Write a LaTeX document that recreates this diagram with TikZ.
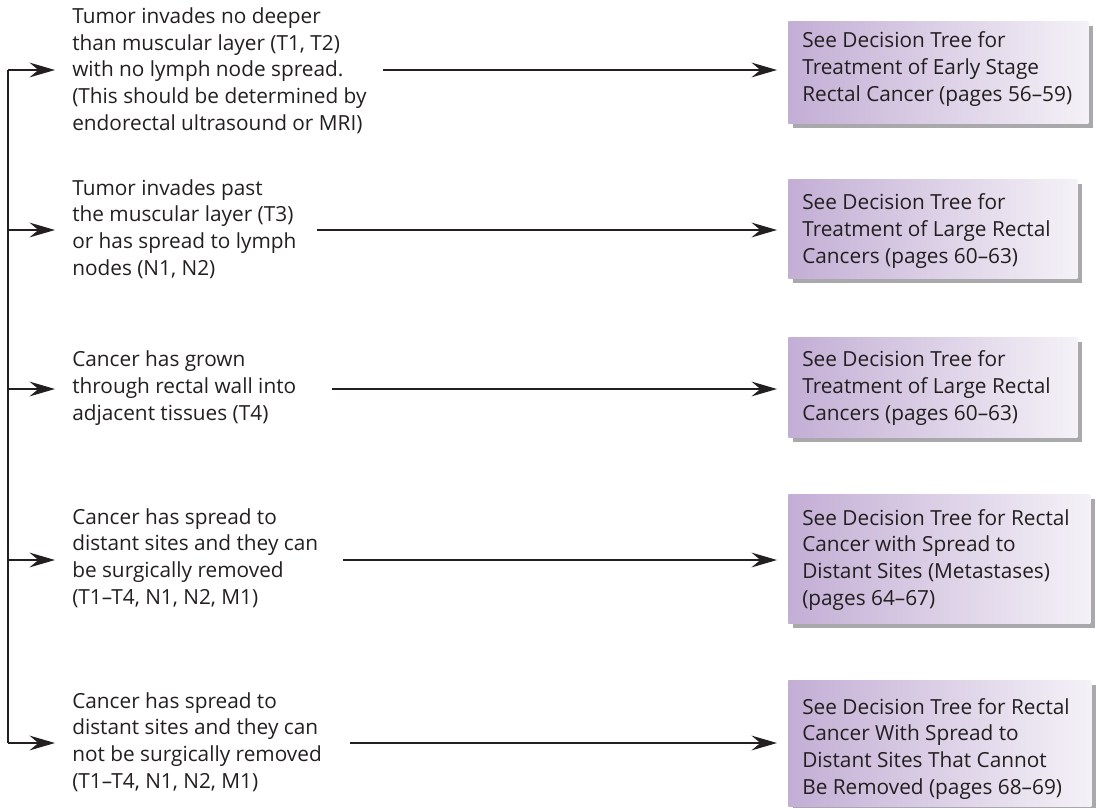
\documentclass[tikz,border=0pt]{standalone}
\usepackage{fontspec}
\setmainfont{Open Sans}
\usetikzlibrary{arrows.meta,shadows}
\definecolor{ink}{HTML}{231F20}
\definecolor{lavender}{HTML}{C3AED5}
\definecolor{paleviolet}{HTML}{F4F1F7}
\definecolor{shadowgrey}{HTML}{A9A9AB}
\begin{document}
\begin{tikzpicture}[x=0.75pt,y=-0.75pt,
  every node/.style={font=\fontsize{15.6pt}{20pt}\selectfont, text=ink, inner sep=0pt},
  % multi-line nodes: the base anchor sits on the last line
  case/.style={anchor=base west, align=left},
  tree/.style={anchor=north west, left color=lavender, right color=paleviolet,
    drop shadow={shadow xshift=3.5pt, shadow yshift=-3.5pt, fill=shadowgrey, opacity=1}},
  treetext/.style={anchor=base west, align=left},
  arr/.style={draw=ink, line width=1.8pt, -{Stealth[length=19pt, width=11pt, inset=6.5pt]}},
  rail/.style={draw=ink, line width=1.8pt}]
\useasboundingbox (0,0) rectangle (1096,807);

% staging cases on the left
\node[case] (t1) at (72,130) {Tumor invades no deeper\\than muscular layer (T1, T2)\\with no lymph node spread.\\(This should be determined by\\endorectal ultrasound or MRI)};
\node[case] (t2) at (72,275) {Tumor invades past\\the muscular layer (T3)\\or has spread to lymph\\nodes (N1, N2)};
\node[case] (t3) at (72,420) {Cancer has grown\\through rectal wall into\\adjacent tissues (T4)};
\node[case] (t4) at (72,604) {Cancer has spread to\\distant sites and they can\\be surgically removed\\(T1--T4, N1, N2, M1)};
\node[case] (t5) at (72,788) {Cancer has spread to\\distant sites and they can\\not be surgically removed\\(T1--T4, N1, N2, M1)};

% decision tree references on the right
\node[tree, minimum width=300*0.75pt, minimum height=102*0.75pt] (b1) at (788,21) {};
\node[tree, minimum width=289*0.75pt, minimum height=99*0.75pt] (b2) at (788,179) {};
\node[tree, minimum width=289*0.75pt, minimum height=100*0.75pt] (b3) at (788,337) {};
\node[tree, minimum width=302*0.75pt, minimum height=129*0.75pt] (b4) at (788,494) {};
\node[tree, minimum width=303*0.75pt, minimum height=126*0.75pt] (b5) at (788,680) {};

\node[treetext] (r1) at (802,101) {See Decision Tree for\\Treatment of Early Stage\\Rectal Cancer (pages 56--59)};
\node[treetext] (r2) at (802,263) {See Decision Tree for\\Treatment of Large Rectal\\Cancers (pages 60--63)};
\node[treetext] (r3) at (802,420) {See Decision Tree for\\Treatment of Large Rectal\\Cancers (pages 60--63)};
\node[treetext] (r4) at (802,605) {See Decision Tree for Rectal\\Cancer with Spread to\\Distant Sites (Metastases)\\(pages 64--67)};
\node[treetext] (r5) at (802,794) {See Decision Tree for Rectal\\Cancer With Spread to\\Distant Sites That Cannot\\Be Removed (pages 68--69)};

% left rail with its branch points
\coordinate (j1) at (8,70);
\coordinate (j2) at (8,230);
\coordinate (j3) at (8,389);
\coordinate (j4) at (8,560);
\coordinate (j5) at (8,743);
\draw[rail] (j1) -- (j5);
\foreach \i in {1,...,5}
  \draw[arr, shorten >=12.75pt] (j\i) -- (j\i -| t\i.west);

% arrows from each case to its decision tree
\coordinate (s1) at (383,70);
\coordinate (s2) at (317,230);
\coordinate (s3) at (332,389);
\coordinate (s4) at (343,560);
\coordinate (s5) at (350,743);
\foreach \i in {1,...,5}
  \draw[arr, shorten >=8.25pt] (s\i) -- (s\i -| b\i.west);
\end{tikzpicture}
\end{document}
